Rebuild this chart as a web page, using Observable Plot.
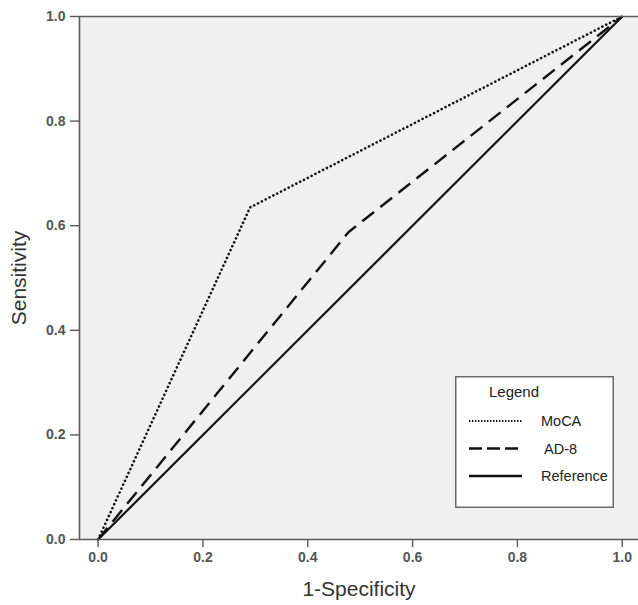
<!DOCTYPE html>
<html>
<head>
<meta charset="utf-8">
<script src="https://cdn.jsdelivr.net/npm/d3@7"></script>
<script src="https://cdn.jsdelivr.net/npm/@observablehq/plot@0.6"></script>
<style>
  html, body { margin: 0; padding: 0; background: #fff; }
  #wrap { position: relative; width: 638px; height: 605px; }
</style>
</head>
<body>
<div id="wrap"></div>
<script>
// Data
const series = ["MoCA", "AD-8", "Reference"];
const mocaX = [0, 0.29, 1];
const mocaY = [0, 0.635, 1];
const ad8X = [0, 0.478, 1];
const ad8Y = [0, 0.588, 1];
const refX = [0, 1];
const refY = [0, 1];
const ticks = [0, 0.2, 0.4, 0.6, 0.8, 1.0];

const dashes = { "MoCA": "0.1,4.2", "AD-8": "15,8", "Reference": null };
const widths = { "MoCA": 2.6, "AD-8": 2.4, "Reference": 2.2 };

const toRows = (name, xs, ys) => xs.map((x, i) => ({ series: name, x, y: ys[i] }));
const lines = {
  "MoCA": toRows("MoCA", mocaX, mocaY),
  "AD-8": toRows("AD-8", ad8X, ad8Y),
  "Reference": toRows("Reference", refX, refY)
};

const axisColor = "#5a5a5a";
const font = "Liberation Sans, Arial, sans-serif";

const chart = Plot.plot({
  width: 638,
  height: 605,
  marginLeft: 79,
  marginRight: 0,
  marginTop: 16,
  marginBottom: 66,
  style: { fontFamily: font, background: "#fff" },
  x: { domain: [-0.0355, 1.031] },
  y: { domain: [0, 1] },
  marks: [
    Plot.frame({ fill: "#f0f0f0", stroke: null }),
    ...series.map(s => Plot.line(lines[s], {
      x: "x", y: "y",
      stroke: "#111",
      strokeWidth: widths[s],
      strokeDasharray: dashes[s],
      strokeLinecap: s === "MoCA" ? "round" : "butt"
    })),
    Plot.ruleY([0, 1], { stroke: axisColor, strokeWidth: 1.6 }),
    Plot.ruleX([-0.0355], { stroke: axisColor, strokeWidth: 1.6 }),
    Plot.axisX(ticks, {
      tickSize: 8, tickPadding: 5, tickFormat: d3.format(".1f"),
      stroke: axisColor, strokeWidth: 1.4, fill: "#555", fontSize: 14, fontWeight: "bold",
      label: "1-Specificity", labelAnchor: "center", labelArrow: "none", labelOffset: 56
    }),
    Plot.axisY(ticks, {
      tickSize: 9, tickPadding: 5, tickFormat: d3.format(".1f"),
      stroke: axisColor, strokeWidth: 1.4, fill: "#555", fontSize: 14, fontWeight: "bold",
      label: "Sensitivity", labelAnchor: "center", labelArrow: "none", labelOffset: 68
    })
  ]
});

// Style axis titles
chart.querySelectorAll("g[aria-label='x-axis label'] text, g[aria-label='y-axis label'] text").forEach(t => {
  t.setAttribute("font-size", "21");
  t.setAttribute("font-weight", "normal");
  t.setAttribute("fill", "#333");
  t.style.fontSize = "21px";
  t.style.fontWeight = "normal";
});

const wrap = document.getElementById("wrap");
wrap.appendChild(chart);

// Legend box
const ns = "http://www.w3.org/2000/svg";
const lg = document.createElementNS(ns, "svg");
lg.setAttribute("width", 159);
lg.setAttribute("height", 132);
lg.style.position = "absolute";
lg.style.left = "455px";
lg.style.top = "376px";
lg.style.fontFamily = font;
const box = document.createElementNS(ns, "rect");
box.setAttribute("x", 0.75); box.setAttribute("y", 0.75);
box.setAttribute("width", 157.5); box.setAttribute("height", 130.5);
box.setAttribute("fill", "#fff"); box.setAttribute("stroke", "#6a6a6a"); box.setAttribute("stroke-width", 1.5);
lg.appendChild(box);
const title = document.createElementNS(ns, "text");
title.setAttribute("x", 34); title.setAttribute("y", 21);
title.setAttribute("font-size", 15); title.setAttribute("fill", "#222");
title.textContent = "Legend";
lg.appendChild(title);
series.forEach((s, i) => {
  const y = 45 + i * 27.5;
  const l = document.createElementNS(ns, "line");
  l.setAttribute("x1", 14); l.setAttribute("x2", 67);
  l.setAttribute("y1", y); l.setAttribute("y2", y);
  l.setAttribute("stroke", "#111");
  l.setAttribute("stroke-width", s === "MoCA" ? 2 : 2.4);
  if (s === "MoCA") { l.setAttribute("stroke-dasharray", "1.4,1.6"); }
  if (s === "AD-8") { l.setAttribute("stroke-dasharray", "13,5"); }
  lg.appendChild(l);
  const t = document.createElementNS(ns, "text");
  t.setAttribute("x", s === "AD-8" ? 89 : 86); t.setAttribute("y", y + 5);
  t.setAttribute("font-size", 14.5); t.setAttribute("fill", "#222");
  t.textContent = s;
  lg.appendChild(t);
});
wrap.appendChild(lg);
</script>
</body>
</html>
